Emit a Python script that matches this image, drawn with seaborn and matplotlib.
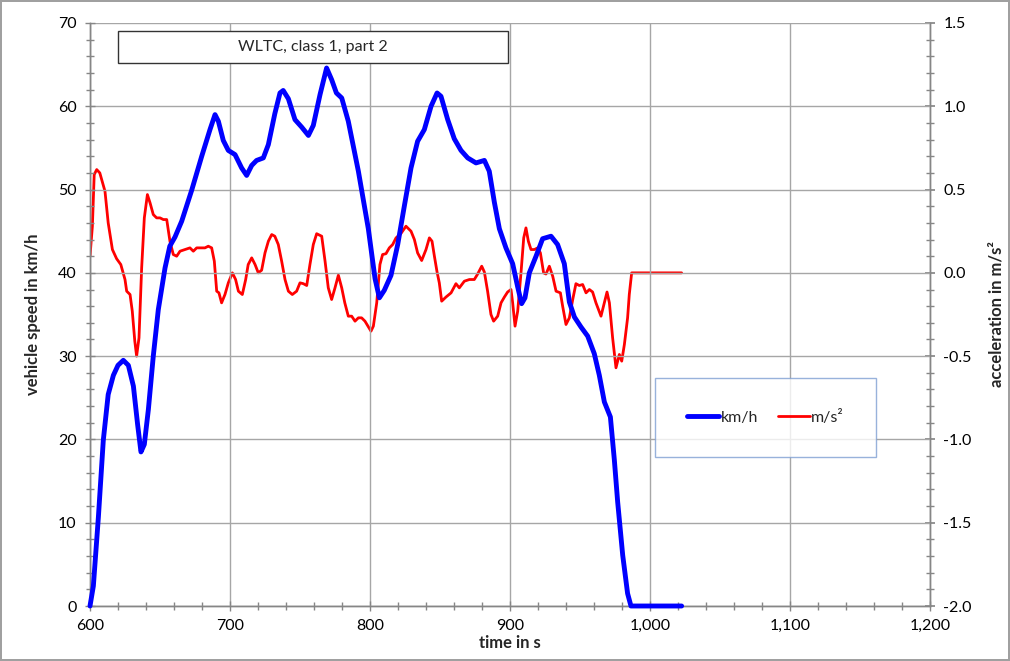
import numpy as np
import pandas as pd
import seaborn as sns
import matplotlib
matplotlib.use("Agg")
import matplotlib.pyplot as plt
from matplotlib.ticker import MultipleLocator, FuncFormatter
from matplotlib.patches import Rectangle
from matplotlib.lines import Line2D

# ---------------- data ----------------
time_kmh = [600, 602.4, 606, 609.5, 613, 616.7, 620, 623.8, 627.4, 631, 634, 636.4, 638.8,
            641.7, 645.2, 648.8, 653.6, 657, 660.7, 665.5, 672.6, 679.8, 685.7, 689.3, 691.7,
            695.2, 698.8, 703.6, 708.3, 711.9, 715.5, 719, 723.8, 727.4, 732, 735.7, 738,
            741.7, 746.4, 751.2, 756, 759.5, 764.3, 769, 772.6, 776, 779.8, 784.5, 791.7,
            798.8, 803.6, 806.7, 810.2, 815, 819.8, 824.5, 829.3, 834, 838.8, 843.6, 847.9,
            850.7, 855.5, 860.2, 865, 869.8, 875.7, 881.7, 885.2, 888.8, 892.4, 897.1, 901.9,
            905.5, 908.3, 910.7, 913.8, 918.6, 923.3, 929.3, 934, 938.8, 942.4, 946, 950.7,
            955.5, 960.2, 963.8, 967.4, 971.7, 974.5, 976.9, 980.5, 984, 986.4, 1022.6]
speed_kmh = [0, 2.4, 10.7, 19.9, 25.4, 27.7, 28.9, 29.5, 28.9, 26.4, 21.8, 18.5, 19.4,
             23.6, 30, 35.6, 40.6, 43.2, 44.3, 46.2, 49.9, 54, 57.2, 59, 58.2,
             55.9, 54.7, 54.2, 52.6, 51.7, 52.9, 53.5, 53.8, 55.4, 59.1, 61.6, 61.9,
             60.9, 58.4, 57.5, 56.5, 57.7, 61.4, 64.6, 63.2, 61.6, 61, 58.2, 52.2,
             45.3, 39.3, 37, 37.9, 39.7, 43.4, 48, 52.6, 55.8, 57.2, 60, 61.6,
             61.2, 58.4, 56.1, 54.7, 53.8, 53.2, 53.5, 52.2, 48.5, 45.3, 43, 41.1,
             38.3, 36.3, 37, 40, 42, 44.1, 44.4, 43.4, 41.1, 36.5, 34.7, 33.5,
             32.4, 30.3, 27.7, 24.5, 22.7, 17.6, 12.5, 6.1, 1.5, 0, 0]

time_acc = [600, 601.7, 603, 604.8, 607, 610.7, 613, 616, 619, 622, 625, 626.2, 628.6, 630.2,
            632, 633.3, 635, 636.9, 638.8, 641, 642.9, 645.2, 647.6, 650, 652.4, 654.8, 657.1,
            659.5, 661.9, 664.3, 667.9, 671.4, 673.8, 676.2, 679.8, 682.1, 684.5, 686.9, 688.8,
            690.5, 692.1, 694, 696.4, 698.8, 701.7, 704, 706, 708.8, 711.2, 713, 715.5, 717.9,
            720.2, 722.6, 725, 727.4, 729.8, 732, 734.5, 736.9, 739.3, 741.7, 744.5, 747.6, 750,
            752.4, 754.8, 757.1, 759.5, 761.9, 765.5, 767.9, 770.2, 772.6, 775, 777.4, 779.8,
            782, 784.5, 786.9, 789.3, 791.7, 794, 796.4, 799.3, 800.7, 802.4, 804.8, 807.1, 809,
            811.4, 813.8, 816.2, 818.6, 822, 825.7, 829.3, 831.7, 834, 836.9, 840, 842.4, 844.3,
            846, 847.9, 849.5, 851.2, 854.3, 857.9, 861.4, 863.8, 867.4, 871, 874.5, 876.9,
            879.8, 881.7, 884, 886.4, 888.3, 891.2, 893.6, 896, 898.3, 900.7, 901.9, 903.6,
            905.5, 907.9, 909.8, 911.4, 913.1, 915, 917.4, 919.8, 921.7, 924, 925.7, 928.1,
            930.5, 932.9, 936, 937.6, 940, 942.4, 944.8, 947.1, 949.5, 951.9, 954.3, 956.7, 959,
            961.4, 965, 967.4, 969.3, 971, 973.3, 975.7, 978.1, 979.8, 981.7, 984, 985.2, 986.9,
            1022.6]
acc_ms2 = [0.10, 0.28, 0.59, 0.62, 0.60, 0.49, 0.30, 0.14, 0.085, 0.05, -0.04, -0.11, -0.13, -0.23,
           -0.41, -0.50, -0.39, 0.03, 0.33, 0.47, 0.42, 0.35, 0.33, 0.33, 0.32, 0.32, 0.19,
           0.11, 0.10, 0.13, 0.14, 0.15, 0.13, 0.15, 0.15, 0.15, 0.16, 0.15, 0.07,
           -0.11, -0.12, -0.18, -0.13, -0.06, 0.0, -0.04, -0.11, -0.13, -0.04, 0.05, 0.09, 0.05,
           0.0, 0.016, 0.12, 0.19, 0.23, 0.22, 0.17, 0.07, -0.04, -0.11, -0.13, -0.11, -0.06,
           -0.065, -0.076, 0.05, 0.17, 0.235, 0.22, 0.07, -0.09, -0.16, -0.09, -0.014, -0.09,
           -0.18, -0.26, -0.26, -0.29, -0.27, -0.27, -0.29, -0.33, -0.35, -0.32, -0.18, 0.05, 0.11,
           0.115, 0.15, 0.17, 0.21, 0.235, 0.28, 0.25, 0.20, 0.12, 0.074, 0.14, 0.21, 0.19,
           0.10, 0.005, -0.06, -0.17, -0.145, -0.12, -0.065, -0.09, -0.05, -0.04, -0.04, -0.007,
           0.04, 0.005, -0.11, -0.25, -0.29, -0.26, -0.18, -0.145, -0.115, -0.1, -0.18, -0.32,
           -0.23, 0.005, 0.21, 0.27, 0.19, 0.14, 0.14, 0.15, 0.12, 0.0, -0.007, 0.04,
           -0.02, -0.11, -0.12, -0.2, -0.31, -0.27, -0.16, -0.065, -0.076, -0.07, -0.12, -0.1, -0.115,
           -0.18, -0.26, -0.18, -0.115, -0.18, -0.39, -0.57, -0.49, -0.53, -0.43, -0.27, -0.13, 0.0,
           0.0]

title_text = "WLTC, class 1, part 2"
x_label = "time in s"
y_label_left = "vehicle speed in km/h"
y_label_right = "acceleration in m/s²"
legend_labels = ["km/h", "m/s²"]

# ---------------- styling ----------------
sns.set_theme(style="white")
plt.rcParams['font.family'] = ['Lato', 'DejaVu Sans']

df_speed = pd.DataFrame({"t": time_kmh, "v": speed_kmh})
df_acc = pd.DataFrame({"t": time_acc, "a": acc_ms2})

fig = plt.figure(figsize=(10.10, 6.61), dpi=100)
fig.patch.set_facecolor("white")
fig.patch.set_edgecolor("#a0a0a0")
fig.patch.set_linewidth(1.5)

ax = fig.add_axes([90 / 1010, 55 / 661, 840 / 1010, 583 / 661])
ax2 = ax.twinx()

grid_c = "#a6a6a6"
spine_c = "#868686"

sns.lineplot(data=df_speed, x="t", y="v", ax=ax, color="#0000ff", linewidth=3.5,
             clip_on=False, zorder=5, solid_joinstyle="round", solid_capstyle="round")
sns.lineplot(data=df_acc, x="t", y="a", ax=ax2, color="#ff0000", linewidth=2.0, zorder=4,
             solid_joinstyle="round")

ax.set_xlim(600, 1200)
ax.set_ylim(0, 70)
ax2.set_ylim(-2.0, 1.5)

ax.xaxis.set_major_locator(MultipleLocator(100))
ax.xaxis.set_minor_locator(MultipleLocator(20))
ax.yaxis.set_major_locator(MultipleLocator(10))
ax.yaxis.set_minor_locator(MultipleLocator(2))
ax2.yaxis.set_major_locator(MultipleLocator(0.5))
ax2.yaxis.set_minor_locator(MultipleLocator(0.1))
ax.xaxis.set_major_formatter(FuncFormatter(lambda v, p: f"{int(v):,}"))
ax2.yaxis.set_major_formatter(FuncFormatter(lambda v, p: f"{v:.1f}"))

ax.grid(True, which="major", color=grid_c, linewidth=1.0)
ax.set_axisbelow(True)
ax2.grid(False)
ax.set_zorder(ax2.get_zorder() + 1)
ax.patch.set_visible(False)

for a in (ax, ax2):
    for s in a.spines.values():
        s.set_color(spine_c)
        s.set_linewidth(1.0)
ax.spines["top"].set_visible(False)
ax2.spines["top"].set_visible(False)

ax.tick_params(axis="both", which="both", direction="inout", colors=spine_c,
               labelcolor="black", labelsize=11.5)
ax.tick_params(axis="both", which="major", length=7, width=1, pad=6)
ax.tick_params(axis="both", which="minor", length=6, width=1)
ax.tick_params(axis="x", which="both", bottom=True, top=False)
ax.tick_params(axis="y", which="both", left=True, right=False)
ax2.tick_params(axis="y", which="both", direction="inout", colors=spine_c,
                labelcolor="black", labelsize=11.5, right=True, left=False)
ax2.tick_params(axis="y", which="major", length=7, pad=6)
ax2.tick_params(axis="y", which="minor", length=6)

ax.set_xlabel(x_label, fontsize=12, fontweight="bold", labelpad=1)
ax.set_ylabel(y_label_left, fontsize=12, fontweight="bold", labelpad=12)
ax2.set_ylabel(y_label_right, fontsize=12, fontweight="bold", labelpad=12)

# title box
ax.add_patch(Rectangle((0.0333, 0.9314), 0.4643, 0.0549, transform=ax.transAxes,
                       facecolor="white", edgecolor="#333333", linewidth=1.0, zorder=6))
ax.text(0.2655, 0.9588, title_text, transform=ax.transAxes, ha="center", va="center",
        fontsize=11.5, zorder=7)

# legend
handles = [Line2D([], [], color="#0000ff", linewidth=3.5),
           Line2D([], [], color="#ff0000", linewidth=2.0)]
leg = ax.legend(handles, legend_labels, loc="lower left",
                bbox_to_anchor=(0.6726, 0.2556, 0.2631, 0.1269), mode="expand",
                ncol=2, fancybox=False, frameon=True, fontsize=11.5,
                handlelength=2.0, handletextpad=0.1, columnspacing=2.0,
                borderpad=2.0, borderaxespad=0)
leg.get_frame().set_edgecolor("#7f9fd3")
leg.get_frame().set_linewidth(1.0)
leg.set_zorder(8)

fig.savefig("out.png", dpi=100, facecolor=fig.get_facecolor(),
            edgecolor=fig.get_edgecolor())
